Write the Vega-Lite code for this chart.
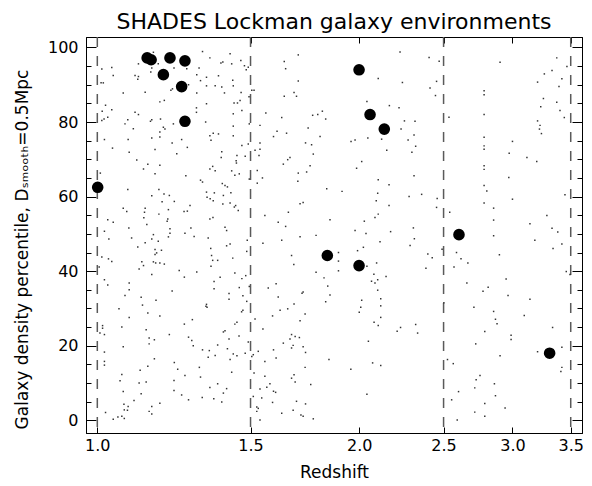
{
  "$schema": "https://vega.github.io/schema/vega-lite/v6.json",
  "width": 496,
  "height": 396,
  "autosize": "none",
  "padding": {"left": 86, "top": 37, "right": 10, "bottom": 53},
  "background": "white",
  "config": {
    "font": "DejaVu Sans",
    "view": {"stroke": "black", "strokeWidth": 1},
    "axis": {
      "grid": false,
      "domainColor": "black",
      "domainWidth": 1,
      "tickColor": "black",
      "tickWidth": 1,
      "labelColor": "black",
      "titleColor": "black",
      "labelFont": "DejaVu Sans",
      "titleFont": "DejaVu Sans",
      "titleFontWeight": "normal",
      "labelFontSize": 16,
      "titleFontSize": 17,
      "labelOverlap": false,
      "labelFlush": false
    }
  },
  "title": {
    "text": "SHADES Lockman galaxy environments",
    "font": "DejaVu Sans",
    "fontSize": 22,
    "fontWeight": "normal",
    "color": "black",
    "anchor": "middle",
    "frame": "group",
    "baseline": "alphabetic",
    "offset": -15
  },
  "datasets": {
    "galaxies": [
      {"z":1.160,"p":98.7},{"z":1.321,"p":98.9},{"z":1.421,"p":98.3},{"z":1.347,"p":97.2},{"z":1.462,"p":96.5},{"z":1.394,"p":96.1},{"z":1.387,"p":95.8},{"z":1.427,"p":95.6},{"z":1.476,"p":95.1},{"z":1.115,"p":95.6},{"z":1.175,"p":95.6},{"z":1.039,"p":94.6},{"z":1.012,"p":94.2},{"z":1.225,"p":94.5},{"z":1.267,"p":94.3},{"z":1.309,"p":94.5},{"z":1.491,"p":94.7},{"z":1.483,"p":94.0},{"z":1.155,"p":94.5},{"z":1.152,"p":93.4},{"z":1.043,"p":92.5},{"z":1.105,"p":92.5},{"z":1.301,"p":92.7},{"z":1.115,"p":92.2},{"z":1.113,"p":91.5},{"z":1.335,"p":92.0},{"z":1.431,"p":91.2},{"z":1.378,"p":92.4},{"z":1.010,"p":90.5},{"z":1.016,"p":90.5},{"z":1.314,"p":91.1},{"z":1.273,"p":90.0},{"z":1.433,"p":89.7},{"z":1.335,"p":89.7},{"z":1.366,"p":89.7},{"z":1.390,"p":89.4},{"z":1.215,"p":88.5},{"z":1.135,"p":88.0},{"z":1.071,"p":87.8},{"z":1.220,"p":88.9},{"z":1.301,"p":87.8},{"z":1.400,"p":87.8},{"z":1.463,"p":87.9},{"z":1.505,"p":88.5},{"z":1.494,"p":86.8},{"z":1.194,"p":85.8},{"z":1.180,"p":85.4},{"z":1.459,"p":85.8},{"z":1.449,"p":85.1},{"z":1.436,"p":85.1},{"z":1.300,"p":83.8},{"z":1.300,"p":82.6},{"z":1.022,"p":84.5},{"z":1.039,"p":83.3},{"z":1.013,"p":82.9},{"z":1.466,"p":83.1},{"z":1.105,"p":82.6},{"z":1.115,"p":82.0},{"z":1.433,"p":82.2},{"z":1.335,"p":84.9},{"z":1.028,"p":81.3},{"z":1.018,"p":80.8},{"z":1.012,"p":80.4},{"z":1.084,"p":80.6},{"z":1.076,"p":79.5},{"z":1.155,"p":80.6},{"z":1.182,"p":80.8},{"z":1.151,"p":80.2},{"z":1.223,"p":79.5},{"z":1.332,"p":80.0},{"z":1.433,"p":78.9},{"z":1.495,"p":79.5},{"z":1.191,"p":78.6},{"z":1.196,"p":78.1},{"z":1.100,"p":78.2},{"z":1.180,"p":77.3},{"z":1.155,"p":75.7},{"z":1.180,"p":76.0},{"z":1.085,"p":75.3},{"z":1.019,"p":75.3},{"z":1.250,"p":75.3},{"z":1.347,"p":76.3},{"z":1.359,"p":77.0},{"z":1.378,"p":76.8},{"z":1.351,"p":75.1},{"z":1.433,"p":76.3},{"z":1.466,"p":73.7},{"z":1.219,"p":74.4},{"z":1.269,"p":73.2},{"z":1.041,"p":73.0},{"z":1.491,"p":74.1},{"z":1.165,"p":72.6},{"z":1.088,"p":71.9},{"z":1.234,"p":71.5},{"z":1.388,"p":70.5},{"z":1.447,"p":71.0},{"z":1.479,"p":70.8},{"z":1.390,"p":72.0},{"z":1.444,"p":69.6},{"z":1.110,"p":69.8},{"z":1.143,"p":68.7},{"z":1.130,"p":67.4},{"z":1.180,"p":68.4},{"z":1.445,"p":69.0},{"z":1.357,"p":68.1},{"z":1.347,"p":67.4},{"z":1.366,"p":66.9},{"z":1.427,"p":66.9},{"z":1.165,"p":66.1},{"z":1.264,"p":65.6},{"z":1.439,"p":65.7},{"z":1.456,"p":66.1},{"z":1.495,"p":64.7},{"z":1.008,"p":66.3},{"z":1.314,"p":64.4},{"z":1.321,"p":63.9},{"z":1.392,"p":63.5},{"z":1.402,"p":63.0},{"z":1.411,"p":62.6},{"z":1.424,"p":61.0},{"z":1.177,"p":61.9},{"z":1.084,"p":61.9},{"z":1.155,"p":60.2},{"z":1.193,"p":60.7},{"z":1.210,"p":60.3},{"z":1.335,"p":61.2},{"z":1.363,"p":61.0},{"z":1.396,"p":60.3},{"z":1.348,"p":59.4},{"z":1.337,"p":59.8},{"z":1.359,"p":58.9},{"z":1.187,"p":58.6},{"z":1.226,"p":58.7},{"z":1.394,"p":58.0},{"z":1.421,"p":58.3},{"z":1.442,"p":57.6},{"z":1.278,"p":57.6},{"z":1.258,"p":56.0},{"z":1.269,"p":56.1},{"z":1.437,"p":57.2},{"z":1.452,"p":56.3},{"z":1.071,"p":56.9},{"z":1.081,"p":56.0},{"z":1.135,"p":56.9},{"z":1.133,"p":55.8},{"z":1.177,"p":55.3},{"z":1.207,"p":56.5},{"z":1.028,"p":53.8},{"z":1.043,"p":53.1},{"z":1.131,"p":54.3},{"z":1.205,"p":54.0},{"z":1.203,"p":53.4},{"z":1.358,"p":54.4},{"z":1.347,"p":54.0},{"z":1.140,"p":52.5},{"z":1.087,"p":51.6},{"z":1.212,"p":51.4},{"z":1.281,"p":51.6},{"z":1.402,"p":51.8},
      {"z":1.408,"p":50.9},{"z":1.019,"p":50.7},{"z":1.261,"p":50.2},{"z":1.212,"p":50.2},{"z":1.160,"p":49.8},{"z":1.292,"p":49.3},{"z":1.207,"p":49.2},{"z":1.095,"p":48.9},{"z":1.031,"p":48.6},{"z":1.155,"p":48.6},{"z":1.175,"p":48.0},{"z":1.341,"p":48.9},{"z":1.135,"p":47.6},{"z":1.487,"p":48.3},{"z":1.421,"p":47.3},{"z":1.408,"p":46.8},{"z":1.113,"p":46.5},{"z":1.165,"p":45.8},{"z":1.185,"p":45.6},{"z":1.170,"p":44.9},{"z":1.165,"p":44.5},{"z":1.350,"p":46.1},{"z":1.485,"p":45.3},{"z":1.353,"p":44.2},{"z":1.357,"p":42.9},{"z":1.375,"p":42.9},{"z":1.431,"p":43.5},{"z":1.012,"p":43.8},{"z":1.030,"p":43.3},{"z":1.039,"p":42.6},{"z":1.125,"p":42.5},{"z":1.160,"p":42.5},{"z":1.167,"p":42.2},{"z":1.180,"p":42.2},{"z":1.194,"p":41.9},{"z":1.130,"p":41.5},{"z":1.351,"p":41.3},{"z":1.005,"p":41.1},{"z":1.117,"p":40.6},{"z":1.242,"p":40.2},{"z":1.301,"p":39.8},{"z":1.439,"p":39.5},{"z":1.155,"p":39.1},{"z":1.259,"p":38.4},{"z":1.384,"p":38.4},{"z":1.481,"p":38.8},{"z":1.466,"p":38.0},{"z":1.019,"p":37.7},{"z":1.362,"p":37.2},{"z":1.088,"p":36.8},{"z":1.028,"p":36.3},{"z":1.495,"p":35.9},{"z":1.456,"p":35.6},{"z":1.088,"p":35.0},{"z":1.362,"p":35.3},{"z":1.219,"p":34.7},{"z":1.076,"p":33.5},{"z":1.417,"p":34.0},{"z":1.123,"p":33.0},{"z":1.168,"p":32.2},{"z":1.417,"p":32.5},{"z":1.470,"p":33.4},{"z":1.485,"p":31.9},{"z":1.335,"p":31.1},{"z":1.333,"p":30.6},{"z":1.337,"p":30.3},{"z":1.127,"p":30.9},{"z":1.059,"p":29.9},{"z":1.143,"p":28.8},{"z":1.470,"p":29.5},{"z":1.465,"p":29.1},{"z":1.180,"p":28.0},{"z":1.088,"p":27.6},{"z":1.286,"p":27.0},{"z":1.259,"p":25.8},{"z":1.447,"p":26.3},{"z":1.439,"p":25.8},{"z":1.067,"p":25.0},{"z":1.014,"p":25.4},{"z":1.014,"p":24.7},{"z":1.138,"p":24.3},{"z":1.402,"p":24.0},{"z":1.396,"p":23.7},{"z":1.007,"p":23.4},{"z":1.019,"p":23.0},{"z":1.210,"p":23.0},{"z":1.273,"p":22.3},{"z":1.455,"p":22.6},{"z":1.417,"p":21.8},{"z":1.147,"p":22.1},{"z":1.163,"p":21.6},{"z":1.284,"p":21.4},{"z":1.147,"p":20.5},{"z":1.491,"p":21.0},{"z":1.289,"p":20.0},{"z":1.375,"p":20.2},{"z":1.071,"p":19.7},{"z":1.321,"p":18.9},{"z":1.345,"p":18.7},{"z":1.411,"p":19.2},{"z":1.479,"p":18.0},{"z":1.433,"p":17.8},{"z":1.447,"p":17.3},{"z":1.366,"p":17.4},{"z":1.341,"p":16.9},{"z":1.019,"p":18.3},{"z":1.163,"p":16.5},{"z":1.019,"p":15.8},{"z":1.019,"p":14.8},{"z":1.421,"p":16.3},{"z":1.226,"p":15.5},{"z":1.143,"p":14.5},{"z":1.310,"p":14.2},{"z":1.237,"p":13.7},{"z":1.120,"p":13.4},{"z":1.427,"p":12.9},{"z":1.261,"p":12.0},{"z":1.067,"p":12.3},{"z":1.314,"p":11.6},{"z":1.225,"p":10.7},{"z":1.062,"p":10.6},{"z":1.138,"p":10.3},{"z":1.117,"p":10.0},{"z":1.375,"p":9.8},{"z":1.347,"p":8.8},{"z":1.408,"p":8.5},{"z":1.396,"p":7.3},{"z":1.225,"p":8.0},{"z":1.071,"p":7.7},{"z":1.250,"p":6.8},{"z":1.320,"p":6.1},{"z":1.361,"p":5.8},{"z":1.273,"p":5.5},{"z":1.123,"p":7.1},{"z":1.102,"p":5.3},{"z":1.390,"p":4.9},{"z":1.180,"p":4.6},{"z":1.155,"p":3.7},{"z":1.073,"p":4.3},{"z":1.085,"p":3.7},{"z":1.074,"p":2.8},{"z":1.083,"p":2.7},{"z":1.022,"p":2.1},{"z":1.147,"p":2.4},{"z":1.155,"p":1.7},{"z":1.067,"p":1.1},{"z":1.056,"p":0.9},{"z":1.074,"p":0.5},{"z":1.043,"p":0.3},
      {"z":2.228,"p":98.8},{"z":1.702,"p":98.0},{"z":2.406,"p":97.3},{"z":1.640,"p":96.2},{"z":2.471,"p":96.3},{"z":1.646,"p":94.3},{"z":2.103,"p":91.7},{"z":1.702,"p":91.0},{"z":2.242,"p":90.6},{"z":2.454,"p":90.9},{"z":2.412,"p":89.1},{"z":1.514,"p":88.5},{"z":1.683,"p":87.9},{"z":1.640,"p":86.9},{"z":1.694,"p":86.9},{"z":2.447,"p":87.1},{"z":2.041,"p":85.5},{"z":2.166,"p":84.4},{"z":2.222,"p":83.8},{"z":1.814,"p":82.9},{"z":1.792,"p":82.0},{"z":1.768,"p":81.8},{"z":1.562,"p":82.4},{"z":1.629,"p":81.2},{"z":1.830,"p":80.8},{"z":2.254,"p":80.3},{"z":2.318,"p":80.2},{"z":1.538,"p":79.1},{"z":1.747,"p":78.4},{"z":1.609,"p":77.5},{"z":1.650,"p":77.0},{"z":2.234,"p":78.1},{"z":1.594,"p":76.1},{"z":1.803,"p":76.1},{"z":2.312,"p":76.5},{"z":2.276,"p":75.2},{"z":1.978,"p":75.2},{"z":1.957,"p":74.8},{"z":2.046,"p":75.7},{"z":2.122,"p":75.4},{"z":1.538,"p":74.4},{"z":1.735,"p":74.4},{"z":1.763,"p":73.9},{"z":2.322,"p":73.5},{"z":1.538,"p":72.7},{"z":1.518,"p":72.4},{"z":2.151,"p":72.4},{"z":2.299,"p":71.9},{"z":1.771,"p":71.4},{"z":1.534,"p":71.0},{"z":1.665,"p":70.5},{"z":1.655,"p":69.9},{"z":2.013,"p":69.4},{"z":1.636,"p":68.7},{"z":1.756,"p":68.3},{"z":1.986,"p":67.6},{"z":1.702,"p":66.3},{"z":1.740,"p":66.6},{"z":1.527,"p":67.0},{"z":1.548,"p":65.0},{"z":1.527,"p":63.6},{"z":1.700,"p":64.1},{"z":2.103,"p":64.5},{"z":2.164,"p":63.2},{"z":2.312,"p":65.6},{"z":1.835,"p":62.1},{"z":1.911,"p":61.4},{"z":2.100,"p":60.9},{"z":2.359,"p":60.6},{"z":2.282,"p":60.0},{"z":2.092,"p":58.9},{"z":1.724,"p":58.4},{"z":1.710,"p":58.1},{"z":2.164,"p":57.6},{"z":2.458,"p":59.5},{"z":2.454,"p":57.1},{"z":1.658,"p":55.8},{"z":2.103,"p":55.3},{"z":2.085,"p":54.4},{"z":1.558,"p":54.9},{"z":1.614,"p":53.1},{"z":1.646,"p":52.0},{"z":1.851,"p":53.8},{"z":2.027,"p":53.4},{"z":2.308,"p":51.6},
      {"z":1.978,"p":50.9},{"z":2.036,"p":50.1},{"z":2.173,"p":50.6},{"z":1.710,"p":49.2},{"z":1.784,"p":49.6},{"z":1.629,"p":48.3},{"z":1.550,"p":47.5},{"z":2.314,"p":48.7},{"z":2.113,"p":47.9},{"z":2.288,"p":46.9},{"z":2.022,"p":46.4},{"z":1.991,"p":45.5},{"z":1.893,"p":45.0},{"z":1.672,"p":44.2},{"z":1.893,"p":42.7},{"z":1.682,"p":41.8},{"z":2.094,"p":42.2},{"z":2.041,"p":41.3},{"z":2.398,"p":44.6},{"z":2.426,"p":43.6},{"z":2.386,"p":40.8},{"z":1.784,"p":39.7},{"z":1.893,"p":40.1},{"z":2.079,"p":39.2},{"z":2.147,"p":38.6},{"z":1.822,"p":38.2},{"z":2.100,"p":37.7},{"z":2.066,"p":37.3},{"z":2.085,"p":36.8},{"z":1.605,"p":36.6},{"z":1.572,"p":35.5},{"z":1.840,"p":36.0},{"z":2.100,"p":34.9},{"z":1.724,"p":34.4},{"z":1.719,"p":34.1},{"z":1.851,"p":33.6},{"z":1.614,"p":33.1},{"z":1.683,"p":31.2},{"z":2.013,"p":32.2},{"z":1.830,"p":31.8},{"z":2.117,"p":32.6},{"z":1.655,"p":29.9},{"z":2.008,"p":30.3},{"z":2.000,"p":29.0},{"z":1.622,"p":29.5},{"z":2.117,"p":30.7},{"z":1.733,"p":28.5},{"z":1.590,"p":28.0},{"z":1.518,"p":27.2},{"z":1.710,"p":26.7},{"z":2.117,"p":27.6},{"z":1.550,"p":24.5},{"z":2.080,"p":26.3},{"z":2.103,"p":25.4},{"z":2.231,"p":24.9},{"z":2.211,"p":23.9},{"z":2.334,"p":23.4},{"z":2.322,"p":25.7},{"z":1.672,"p":23.0},{"z":1.688,"p":22.5},{"z":1.707,"p":22.2},{"z":1.665,"p":21.8},{"z":1.636,"p":20.7},{"z":1.679,"p":20.1},{"z":1.724,"p":19.7},{"z":1.672,"p":19.4},{"z":1.594,"p":18.9},{"z":1.735,"p":18.2},{"z":1.531,"p":18.5},{"z":1.511,"p":17.6},{"z":1.505,"p":17.1},{"z":1.605,"p":16.7},{"z":1.846,"p":16.3},{"z":2.049,"p":21.2},{"z":2.072,"p":15.4},{"z":2.117,"p":14.7},{"z":1.558,"p":15.8},{"z":1.733,"p":14.2},{"z":1.956,"p":13.7},{"z":1.514,"p":12.7},{"z":1.683,"p":12.2},{"z":1.672,"p":11.3},{"z":1.558,"p":11.8},{"z":1.688,"p":10.3},{"z":1.579,"p":9.8},{"z":1.759,"p":9.6},{"z":1.566,"p":8.9},{"z":1.538,"p":8.4},{"z":1.594,"p":7.8},{"z":1.603,"p":7.5},{"z":2.041,"p":7.0},{"z":1.511,"p":6.4},{"z":1.545,"p":6.0},{"z":1.694,"p":5.1},{"z":1.590,"p":4.8},{"z":1.735,"p":4.4},{"z":1.525,"p":3.6},{"z":1.531,"p":3.2},{"z":1.525,"p":2.4},{"z":1.679,"p":2.7},{"z":1.629,"p":1.9},{"z":1.714,"p":1.4},{"z":1.724,"p":1.1},{"z":1.771,"p":0.4},{"z":1.538,"p":0.1},
      {"z":3.373,"p":97.2},{"z":2.903,"p":96.0},{"z":3.465,"p":94.9},{"z":3.331,"p":93.8},{"z":3.264,"p":92.9},{"z":3.419,"p":91.6},{"z":3.206,"p":90.7},{"z":3.393,"p":89.5},{"z":2.783,"p":88.4},{"z":2.783,"p":87.3},{"z":3.256,"p":86.3},{"z":3.373,"p":85.3},{"z":3.233,"p":84.1},{"z":3.402,"p":83.1},{"z":3.441,"p":81.2},{"z":2.536,"p":81.3},{"z":2.783,"p":82.0},{"z":3.206,"p":80.3},{"z":3.227,"p":79.1},{"z":3.222,"p":78.1},{"z":3.239,"p":76.9},{"z":2.783,"p":75.9},{"z":3.000,"p":74.8},{"z":2.783,"p":73.6},{"z":2.783,"p":72.7},{"z":2.974,"p":71.6},{"z":3.117,"p":70.5},{"z":3.199,"p":69.4},{"z":2.783,"p":68.3},{"z":2.783,"p":67.3},{"z":2.971,"p":65.1},{"z":2.783,"p":63.0},{"z":2.803,"p":61.5},{"z":3.447,"p":60.5},{"z":2.783,"p":58.3},{"z":3.000,"p":59.3},{"z":2.854,"p":56.9},{"z":2.541,"p":55.8},{"z":3.286,"p":54.9},{"z":2.854,"p":53.7},{"z":3.142,"p":52.7},{"z":3.331,"p":51.5},
      {"z":3.382,"p":50.5},{"z":2.854,"p":49.5},{"z":3.183,"p":48.3},{"z":3.419,"p":47.3},{"z":3.340,"p":46.1},{"z":2.490,"p":45.9},{"z":2.587,"p":45.0},{"z":2.898,"p":44.4},{"z":2.618,"p":43.3},{"z":2.666,"p":42.2},{"z":2.570,"p":41.1},{"z":3.459,"p":39.9},{"z":3.493,"p":39.1},{"z":2.950,"p":37.9},{"z":2.659,"p":36.8},{"z":2.813,"p":35.7},{"z":2.775,"p":34.6},{"z":2.965,"p":33.5},{"z":3.142,"p":32.5},{"z":2.502,"p":31.5},{"z":2.709,"p":30.3},{"z":2.854,"p":29.2},{"z":3.095,"p":28.1},{"z":2.868,"p":27.1},{"z":2.880,"p":25.9},{"z":3.336,"p":24.9},{"z":2.788,"p":23.8},{"z":2.989,"p":22.8},{"z":2.989,"p":21.7},{"z":2.722,"p":20.5},{"z":3.419,"p":19.6},{"z":3.206,"p":18.4},{"z":2.903,"p":17.3},{"z":2.526,"p":16.3},{"z":2.565,"p":15.2},{"z":3.419,"p":14.2},{"z":3.410,"p":13.1},{"z":2.753,"p":12.0},{"z":2.725,"p":10.9},{"z":2.860,"p":9.8},{"z":2.715,"p":8.7},{"z":2.601,"p":7.7},{"z":2.868,"p":6.6},{"z":2.554,"p":5.5},{"z":2.788,"p":4.5},{"z":2.942,"p":3.3},{"z":2.715,"p":2.2},{"z":2.788,"p":1.1},{"z":2.592,"p":0.1}
    ],
    "submm": [
      {"z":1.141,"p":97.2},{"z":1.153,"p":96.7},{"z":1.212,"p":97.2},{"z":1.261,"p":96.4},{"z":1.191,"p":92.7},{"z":1.250,"p":89.5},{"z":1.261,"p":80.2},{"z":1.001,"p":62.5},{"z":1.999,"p":94.0},{"z":2.058,"p":82.0},{"z":2.137,"p":78.1},{"z":1.838,"p":44.2},{"z":1.999,"p":41.5},{"z":2.604,"p":49.8},{"z":3.310,"p":18.0}
    ]
  },
  "layer": [
    {
      "data": {"values": [{"z": 1.0}, {"z": 1.5}, {"z": 2.5}, {"z": 3.5}]},
      "mark": {"type": "rule", "color": "#5a5a5a", "strokeWidth": 1.5, "strokeDash": [10, 9]},
      "encoding": {
        "x": {"field": "z", "type": "quantitative", "scale": {"type": "log", "domain": [0.9705, 3.606], "nice": false}, "axis": null}
      }
    },
    {
      "data": {"name": "galaxies"},
      "mark": {"type": "square", "size": 2.2, "color": "#333333", "opacity": 1},
      "encoding": {
        "x": {
          "field": "z", "type": "quantitative",
          "scale": {"type": "log", "domain": [0.9705, 3.606], "nice": false},
          "axis": {
            "orient": "bottom",
            "values": [1, 1.5, 2, 2.5, 3, 3.5],
            "format": ".1f",
            "tickSize": -6,
            "labelPadding": 10,
            "title": "Redshift",
            "titleY": 44,
            "titleBaseline": "alphabetic"
          }
        },
        "y": {
          "field": "p", "type": "quantitative",
          "scale": {"domain": [-3.4, 102.8], "nice": false, "zero": false},
          "axis": {
            "orient": "left",
            "values": [0, 5, 10, 15, 20, 25, 30, 35, 40, 45, 50, 55, 60, 65, 70, 75, 80, 85, 90, 95, 100],
            "tickSize": {"condition": {"test": "datum.value % 20 === 0", "value": -10}, "value": -5},
            "labelExpr": "datum.value % 20 === 0 ? datum.label : ''",
            "labelPadding": 18,
            "title": "Galaxy density percentile, Dₛₘₒₒₜₕ=0.5Mpc",
            "titleX": -59,
            "titleY": 212,
            "titleBaseline": "alphabetic"
          }
        }
      }
    },
    {
      "data": {"name": "submm"},
      "mark": {"type": "circle", "size": 135, "color": "black", "opacity": 1},
      "encoding": {
        "x": {
          "field": "z", "type": "quantitative",
          "scale": {"type": "log", "domain": [0.9705, 3.606], "nice": false},
          "axis": {"orient": "top", "values": [1, 1.5, 2, 2.5, 3, 3.5], "tickSize": -6, "labels": false, "title": null}
        },
        "y": {
          "field": "p", "type": "quantitative",
          "scale": {"domain": [-3.4, 102.8], "nice": false, "zero": false},
          "axis": {
            "orient": "right",
            "values": [0, 5, 10, 15, 20, 25, 30, 35, 40, 45, 50, 55, 60, 65, 70, 75, 80, 85, 90, 95, 100],
            "tickSize": {"condition": {"test": "datum.value % 20 === 0", "value": -10}, "value": -5},
            "labels": false,
            "title": null
          }
        }
      }
    }
  ],
  "resolve": {"axis": {"x": "independent", "y": "independent"}}
}
